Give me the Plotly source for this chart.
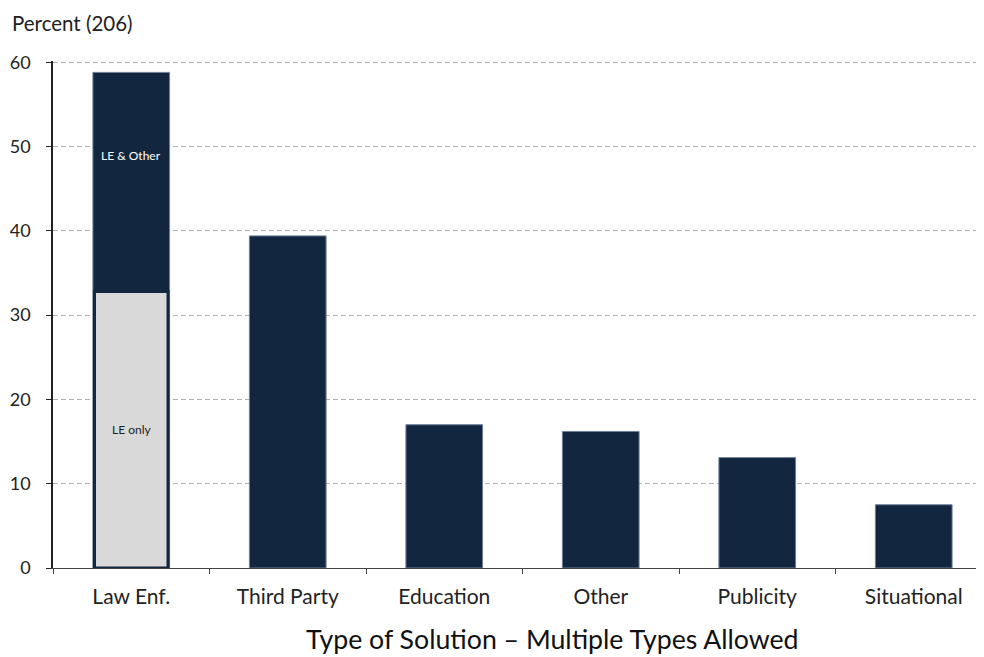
import plotly.graph_objects as go

categories = ["Law Enf.", "Third Party", "Education", "Other", "Publicity", "Situational"]
values = [58.8, 39.4, 17.0, 16.2, 13.1, 7.5]
le_only_category = ["Law Enf."]
le_only_value = [32.8]
y_ticks = [0, 10, 20, 30, 40, 50, 60]

NAVY = "#12263f"
GRAY = "#d9d9d9"
FONT = "Lato"

# page has an 8px body margin; compensate so that the plot lands where the reference has it
OFF = 8
L, T, B_WIN = 53 - OFF, 61 - OFF, 568 - OFF
W, H = 984 - OFF, 657 - OFF
PW, PH = W - L, B_WIN - T

fig = go.Figure()
fig.add_trace(go.Bar(
    x=categories, y=values, width=0.49,
    marker=dict(color=NAVY, line=dict(color="#6f7f96", width=1)),
    showlegend=False, hoverinfo="x+y",
))
fig.add_trace(go.Bar(
    x=le_only_category, y=le_only_value, width=0.47,
    marker=dict(color=GRAY, line=dict(color=NAVY, width=3)),
    showlegend=False, hoverinfo="x+y",
))

fig.add_annotation(x=categories[0], y=48.9, text="LE & Other", showarrow=False,
                   font=dict(family=FONT, size=12, color="white"))
fig.add_annotation(x=categories[0], y=16.4, text="LE only", showarrow=False,
                   font=dict(family=FONT, size=12, color="#222222"))

fig.add_annotation(xref="paper", yref="paper", x=(10 - OFF - L) / PW, y=1 + (T - 0.5) / PH,
                   xanchor="left", yanchor="top", text="Percent (206)", showarrow=False,
                   font=dict(family=FONT, size=20.5, color="#222222"))
fig.add_annotation(xref="paper", yref="paper", x=(552 - OFF - L) / PW, y=-(639 - 568) / PH,
                   xanchor="center", yanchor="middle",
                   text="Type of Solution \u2013 Multiple Types Allowed", showarrow=False,
                   font=dict(family=FONT, size=26.7, color="#111111"))

fig.update_layout(
    width=W, height=H,
    margin=dict(l=L, r=0, t=T, b=H - B_WIN, pad=0),
    barmode="overlay",
    plot_bgcolor="white", paper_bgcolor="white",
    font=dict(family=FONT, color="#222222"),
)
fig.update_xaxes(
    type="category", range=[-0.5, -0.5 + PW / 156.5],
    showline=True, linecolor="#444444", linewidth=1,
    ticks="outside", tickson="boundaries", ticklen=5, tickcolor="#444444",
    showgrid=False, tickfont=dict(family=FONT, size=21, color="#222222"),
    ticklabelstandoff=10,
)
fig.update_yaxes(
    range=[0, 60.15], tickvals=y_ticks,
    showline=True, linecolor="#222222", linewidth=1.5,
    ticks="outside", ticklen=5, tickcolor="#222222",
    showgrid=True, gridcolor="#b0b0b0", griddash="5px,3px", gridwidth=1,
    zeroline=False,
    tickfont=dict(family=FONT, size=18, color="#222222"),
    ticklabelstandoff=12,
)

fig.write_html("out.html")
